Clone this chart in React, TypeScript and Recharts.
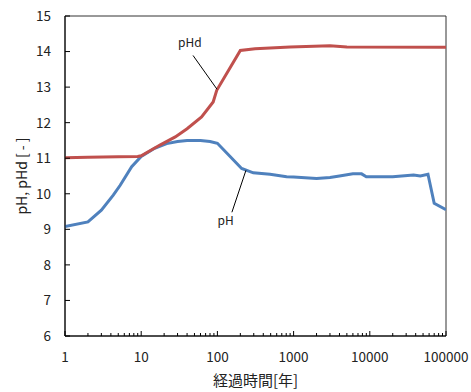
import React from "react";
import {
  LineChart,
  Line,
  XAxis,
  YAxis,
  ReferenceArea,
  ReferenceLine,
  ReferenceDot,
} from "recharts";

// elapsed years / values
const pHYears = [1, 2, 3, 4.3, 5.3, 7.5, 10, 15, 21.6, 30, 40, 60, 80, 100, 208, 296, 490, 810, 1000, 2000, 3000, 4000, 6000, 7800, 9000, 20000, 37500, 46000, 58000, 70000, 100000];
const pHValues = [9.08, 9.21, 9.54, 9.96, 10.24, 10.76, 11.05, 11.28, 11.41, 11.47, 11.5, 11.5, 11.47, 11.42, 10.71, 10.59, 10.55, 10.48, 10.47, 10.43, 10.46, 10.5, 10.56, 10.56, 10.48, 10.48, 10.53, 10.5, 10.55, 9.73, 9.55];

const pHdYears = [1, 2, 5, 9, 10, 17.6, 28, 40, 62, 88, 98, 200, 312, 900, 3000, 5000, 100000];
const pHdValues = [11.01, 11.03, 11.04, 11.05, 11.07, 11.37, 11.6, 11.83, 12.16, 12.58, 12.91, 14.03, 14.08, 14.13, 14.16, 14.13, 14.12];

const majorTicks = [1, 10, 100, 1000, 10000, 100000];
const minorSteps = [2, 3, 4, 5, 6, 7, 8, 9];
const yTicks = [6, 7, 8, 9, 10, 11, 12, 13, 14, 15];

// annotation labels and leader lines, in data units
const pHdLabel = { t: 43.6, v: 14.26, text: "pHd" };
const pHdLeader = [{ x: 47.9, y: 13.89 }, { x: 98.8, y: 12.94 }];
const pHLabel = { t: 128, v: 9.25, text: "pH" };
const pHLeader = [{ x: 155, y: 9.48 }, { x: 237, y: 10.66 }];

const pHData = pHYears.map((t, i) => ({ t, v: pHValues[i] }));
const pHdData = pHdYears.map((t, i) => ({ t, v: pHdValues[i] }));
const xTicks = majorTicks.flatMap((d) =>
  d < 100000 ? [d, ...minorSteps.map((k) => d * k)] : [d]
);

const FONT = "'Noto Sans CJK JP', 'Noto Sans', sans-serif";
const X_MARGIN = 10;
const Y_MARGIN = 14;

function XTick(props: any) {
  const { x, y, payload } = props;
  const major = majorTicks.includes(payload.value);
  const axisY = y - X_MARGIN;
  return (
    <g>
      <line x1={x} x2={x} y1={axisY} y2={axisY - (major ? 5 : 3)} stroke="#000" />
      {major && (
        <text x={x} y={axisY + 26} textAnchor="middle" fontSize={13.5} fill="#222">
          {payload.value}
        </text>
      )}
    </g>
  );
}

function YTick(props: any) {
  const { x, y, payload } = props;
  const axisX = x + Y_MARGIN;
  return (
    <g>
      <line x1={axisX} x2={axisX + 5} y1={y} y2={y} stroke="#000" />
      <text x={x} y={y} dy="0.36em" textAnchor="end" fontSize={13.5} fill="#222">
        {payload.value}
      </text>
    </g>
  );
}

export default function App() {
  return (
    <div style={{ position: "absolute", left: 0, top: 0, width: 471, height: 392, background: "#fff" }}>
      <LineChart
        width={471}
        height={392}
        margin={{ top: 16, right: 25, bottom: 0, left: 0 }}
        style={{ fontFamily: FONT }}
      >
        <XAxis
          dataKey="t"
          type="number"
          scale="log"
          domain={[1, 100000]}
          allowDataOverflow
          ticks={xTicks}
          interval={0}
          height={56}
          tickSize={0}
          tickMargin={X_MARGIN}
          tickLine={false}
          tick={<XTick />}
          axisLine={{ stroke: "#000" }}
          label={{
            value: "経過時間[年]",
            position: "insideBottom",
            offset: 6,
            fontSize: 15,
            fill: "#222",
          }}
        />
        <YAxis
          type="number"
          domain={[6, 15]}
          ticks={yTicks}
          interval={0}
          width={65}
          tickSize={0}
          tickMargin={Y_MARGIN}
          tickLine={false}
          tick={<YTick />}
          axisLine={{ stroke: "#000" }}
          label={{
            content: ({ viewBox }: any) => (
              <text
                x={viewBox.x + 27}
                y={viewBox.y + viewBox.height / 2}
                transform={`rotate(-90, ${viewBox.x + 27}, ${viewBox.y + viewBox.height / 2})`}
                textAnchor="middle"
                fontSize={14}
                fill="#222"
              >
                pH, pHd [ - ]
              </text>
            ),
          }}
        />
        <ReferenceArea x1={1} x2={100000} y1={6} y2={15} fill="none" stroke="#333" strokeWidth={1} />
        <Line
          data={pHData}
          dataKey="v"
          type="linear"
          stroke="#4f81bd"
          strokeWidth={3}
          dot={false}
          isAnimationActive={false}
        />
        <Line
          data={pHdData}
          dataKey="v"
          type="linear"
          stroke="#c0504d"
          strokeWidth={3}
          dot={false}
          isAnimationActive={false}
        />
        <ReferenceLine segment={pHdLeader} stroke="#000" strokeWidth={1} />
        <ReferenceLine segment={pHLeader} stroke="#000" strokeWidth={1} />
        <ReferenceDot
          x={pHdLabel.t}
          y={pHdLabel.v}
          r={0}
          fill="none"
          stroke="none"
          label={{ value: pHdLabel.text, position: "center", fontSize: 12, fill: "#222" }}
        />
        <ReferenceDot
          x={pHLabel.t}
          y={pHLabel.v}
          r={0}
          fill="none"
          stroke="none"
          label={{ value: pHLabel.text, position: "center", fontSize: 12, fill: "#222" }}
        />
      </LineChart>
    </div>
  );
}
